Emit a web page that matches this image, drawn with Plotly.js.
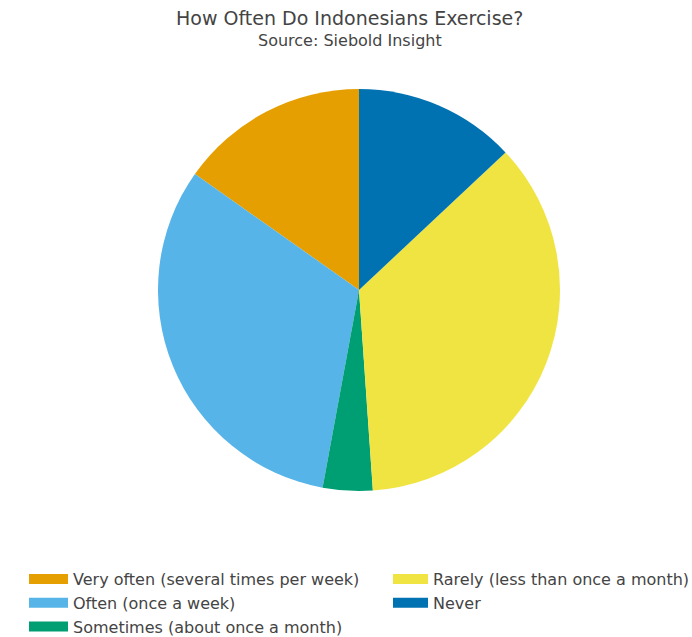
<!DOCTYPE html>
<html>
<head>
<meta charset="utf-8">
<script src="https://cdn.plot.ly/plotly-3.0.1.min.js"></script>
<style>html,body{margin:0;padding:0;background:#fff;overflow:hidden;}#chart{width:700px;height:650px;}</style>
</head>
<body>
<div id="chart"></div>
<script>
const categories = [
  "Very often (several times per week)",
  "Often (once a week)",
  "Sometimes (about once a month)",
  "Rarely (less than once a month)",
  "Never"
];
const shares = [15.2, 31.9, 4.0, 35.9, 13.0];
const colors = ["#E69F00", "#56B4E9", "#009E73", "#F0E442", "#0072B2"];
const legendColumn = ["legend", "legend", "legend", "legend2", "legend2"];
const titleText = "How Often Do Indonesians Exercise?";
const subtitleText = "Source: Siebold Insight";

const FONT = "DejaVu Sans, sans-serif";
const W = 700, H = 650;
const px = v => v / W;
const py = v => 1 - v / H;
const total = shares.reduce((a, b) => a + b, 0);

const traces = [{
  type: "pie",
  labels: categories,
  values: shares,
  marker: {colors: colors, line: {width: 0}},
  sort: false,
  direction: "counterclockwise",
  rotation: -shares[0] / total * 360,
  textinfo: "none",
  hoverinfo: "label+percent",
  showlegend: false,
  domain: {x: [px(158), px(560)], y: [py(491), py(89)]}
}];

categories.forEach((c, i) => {
  traces.push({
    type: "scatter",
    mode: "lines",
    x: [null], y: [null],
    name: c,
    legend: legendColumn[i],
    legendgroup: "g" + i,
    line: {color: colors[i], width: 10},
    showlegend: true,
    hoverinfo: "skip"
  });
});

const legendCommon = {
  orientation: "v",
  traceorder: "grouped",
  tracegroupgap: 0,
  bgcolor: "rgba(0,0,0,0)",
  font: {family: FONT, size: 16, color: "#444"},
  xanchor: "left",
  yanchor: "top"
};

const layout = {
  width: W,
  height: H,
  margin: {l: 0, r: 0, t: 0, b: 0},
  paper_bgcolor: "#fff",
  plot_bgcolor: "#fff",
  font: {family: FONT, color: "#444"},
  xaxis: {visible: false},
  yaxis: {visible: false},
  legend: Object.assign({}, legendCommon, {x: px(24), y: py(562), itemwidth: 39}),
  legend2: Object.assign({}, legendCommon, {x: px(388), y: py(562), itemwidth: 35}),
  annotations: [
    {text: titleText, xref: "paper", yref: "paper", x: px(349.5), y: py(18),
     xanchor: "center", yanchor: "middle", showarrow: false,
     font: {family: FONT, size: 19, color: "#444"}},
    {text: subtitleText, xref: "paper", yref: "paper", x: px(349.5), y: py(41),
     xanchor: "center", yanchor: "middle", showarrow: false,
     font: {family: FONT, size: 16, color: "#444"}}
  ]
};

Plotly.newPlot("chart", traces, layout, {displayModeBar: false, staticPlot: true});
</script>
</body>
</html>
